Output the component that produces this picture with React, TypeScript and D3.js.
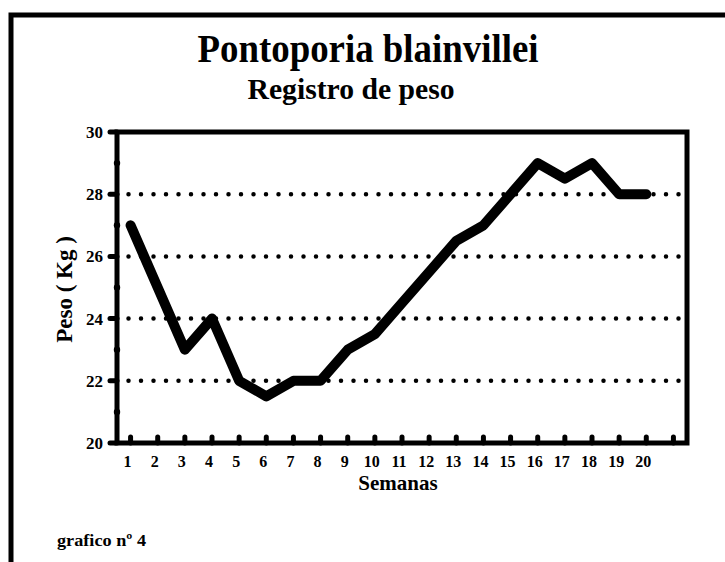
import React from "react";
import * as d3 from "d3";

// semanas 1..20, peso em kg
const weekLabels = ["1", "2", "3", "4", "5", "6", "7", "8", "9", "10", "11", "12", "13", "14", "15", "16", "17", "18", "19", "20"];
const weights = [27, 25, 23, 24, 22, 21.5, 22, 22, 23, 23.5, 24.5, 25.5, 26.5, 27, 28, 29, 28.5, 29, 28, 28];
const yLabelTicks = [20, 22, 24, 26, 28, 30];
const yMinorTicks = [21, 23, 25, 27, 29];
const gridValues = [22, 24, 26, 28];
const xTickSlots = 21;

const W = 725;
const H = 562;
const plot = { left: 117, right: 687, top: 132, bottom: 443 };
const font = "'Liberation Serif', 'Times New Roman', serif";

const App = () => {
  const x = d3.scaleLinear().domain([0.5, xTickSlots + 0.5]).range([plot.left, plot.right]);
  const y = d3.scaleLinear().domain([20, 30]).range([plot.bottom, plot.top]);

  const line = d3
    .line<number>()
    .x((d, i) => x(i + 1))
    .y((d) => y(d));

  const slots = d3.range(1, xTickSlots + 1);

  return (
    <svg width={W} height={H} style={{ position: "absolute", left: 0, top: 0, background: "#fff" }}>
      {/* outer frame */}
      <rect x={11} y={15} width={800} height={700} fill="none" stroke="#000" strokeWidth={5} />

      <text x={368} y={62} textAnchor="middle" fontFamily={font} fontWeight="bold" fontSize={39} textLength={341} lengthAdjust="spacingAndGlyphs">
        Pontoporia blainvillei
      </text>
      <text x={351} y={99} textAnchor="middle" fontFamily={font} fontWeight="bold" fontSize={29} textLength={207} lengthAdjust="spacingAndGlyphs">
        Registro de peso
      </text>

      {/* dotted grid */}
      {gridValues.map((v) => (
        <line key={v} x1={plot.left - 1} x2={plot.right - 4} y1={y(v)} y2={y(v)} stroke="#000" strokeWidth={4.5} strokeLinecap="round" strokeDasharray="0 12.5" />
      ))}

      {/* y ticks */}
      {yLabelTicks.map((v) => (
        <g key={v}>
          <line x1={plot.left - 7} x2={plot.left} y1={y(v)} y2={y(v)} stroke="#000" strokeWidth={5} strokeLinecap="round" />
          <text x={103} y={y(v) + 6} textAnchor="end" fontFamily={font} fontWeight="bold" fontSize={17}>
            {v}
          </text>
        </g>
      ))}
      {yMinorTicks.map((v) => (
        <circle key={v} cx={plot.left} cy={y(v)} r={3.2} fill="#000" />
      ))}

      {/* x ticks */}
      {slots.map((s) => (
        <line key={s} x1={x(s)} x2={x(s)} y1={plot.bottom} y2={plot.bottom - 6} stroke="#000" strokeWidth={5} strokeLinecap="round" />
      ))}
      {weekLabels.map((lab, i) => (
        <text key={lab} x={x(i + 1) - 3} y={467} textAnchor="middle" fontFamily={font} fontWeight="bold" fontSize={16}>
          {lab}
        </text>
      ))}

      {/* plot frame */}
      <rect x={plot.left} y={plot.top} width={plot.right - plot.left} height={plot.bottom - plot.top} fill="none" stroke="#000" strokeWidth={5} />

      <path d={line(weights) ?? ""} fill="none" stroke="#000" strokeWidth={10} strokeLinejoin="round" strokeLinecap="round" />

      <text x={398} y={490} textAnchor="middle" fontFamily={font} fontWeight="bold" fontSize={21}>
        Semanas
      </text>
      <text transform={`translate(72,${(plot.top + plot.bottom) / 2 + 2}) rotate(-90)`} textAnchor="middle" fontFamily={font} fontWeight="bold" fontSize={23}>
        Peso ( Kg )
      </text>

      <text x={57} y={546} fontFamily={font} fontWeight="bold" fontSize={17} textLength={89} lengthAdjust="spacingAndGlyphs">
        grafico nº 4
      </text>
    </svg>
  );
};

export default App;
